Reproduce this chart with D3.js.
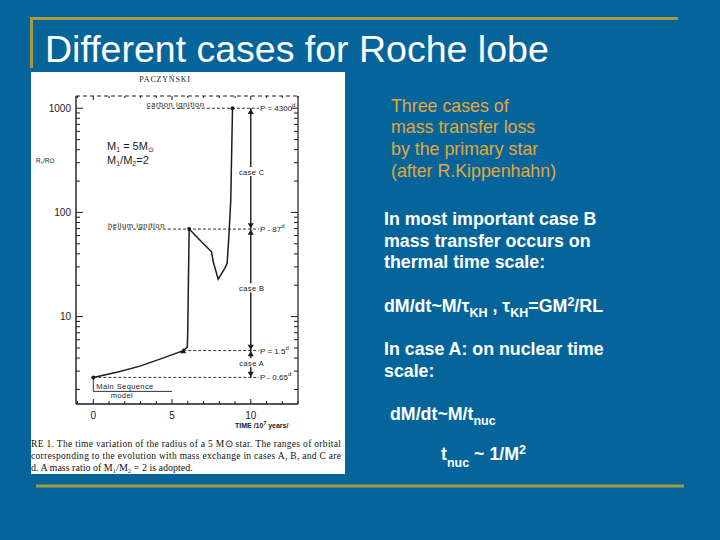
<!DOCTYPE html>
<html>
<head>
<meta charset="utf-8">
<script src="https://cdnjs.cloudflare.com/ajax/libs/d3/7.8.5/d3.min.js"></script>
<style>
  body { margin: 0; background: #05659b; }
  svg { display: block; }
</style>
</head>
<body>
<div class="chart"></div>
<script>
// evolutionary track of the 5 Msun primary (time in 10^7 yr, radius in Rsun)
var trackTime   = [0, 1.5, 2.96, 4.5, 5.71, 5.97, 6.0, 6.04, 6.09, 6.87, 7.51, 7.62, 7.93, 8.35, 8.5, 8.62, 8.73, 8.84];
var trackRadius = [2.61, 2.93, 3.35, 4.04, 4.72, 5.09, 7.4, 22.4, 69.2, 52.2, 41.9, 33.4, 22.9, 29.0, 32.4, 63, 131, 1000];

// orbital periods marking the limits of cases A, B, C
var periodLabels = ["4300", "87", "1.5", "0.65"];
var periodRadius = [1000, 69.2, 4.72, 2.61];
var periodStart  = [3.4, 0.93, 5.71, 0];
var periodSign   = ["=", "-", "=", "-"];

var ignitionLabels = ["carbon ignition", "helium ignition"];
var ignitionRadius = [1000, 69.2];
var ignitionStart  = [3.4, 0.93];

var caseLabels = ["case C", "case B", "case A"];
var caseRadius = [244, 18.7, 3.58];
var caseTime = 10;

var yTickLabels = [10, 100, 1000];
var xTickLabels = [0, 5, 10];

var rightLinesGold = ["Three cases of", "mass transfer loss", "by the primary star", "(after R.Kippenhahn)"];
var rightLinesBold = ["In most important case B", "mass transfer occurs on", "thermal time scale:"];
var rightLinesBold2 = ["In case A: on nuclear time", "scale:"];
var captionLines = [
  "RE 1.  The time variation of the radius of a 5 M\u2299 star. The ranges of orbital",
  "corresponding to the evolution with mass exchange in cases A, B, and C are",
  "d. A mass ratio of M\u2081/M\u2082 = 2 is adopted."
];
var captionWidths = [310, 310, 0];

var W = 720, H = 540;
var gold = "#a89a3e", goldText = "#e3a73c", ink = "#1c1c1c";
var sans = "Arial, 'Liberation Sans', sans-serif";
var serif = "'Times New Roman', 'Liberation Serif', serif";

var svg = d3.select(".chart").append("svg")
  .attr("width", W)
  .attr("height", H);

svg.append("rect").attr("width", W).attr("height", H).attr("fill", "#05659b");

// slide frame lines
svg.append("line").attr("x1", 31).attr("x2", 678).attr("y1", 18.5).attr("y2", 18.5)
  .attr("stroke", gold).attr("stroke-width", 3);
svg.append("line").attr("x1", 31.5).attr("x2", 31.5).attr("y1", 17).attr("y2", 68)
  .attr("stroke", gold).attr("stroke-width", 3);
svg.append("line").attr("x1", 36).attr("x2", 684).attr("y1", 486).attr("y2", 486)
  .attr("stroke", gold).attr("stroke-width", 3);

svg.append("text")
  .attr("x", 45).attr("y", 62)
  .attr("font-family", sans).attr("font-size", 37.5)
  .attr("fill", "#fff")
  .text("Different cases for Roche lobe");

// white panel with the scanned figure
svg.append("clipPath").attr("id", "panel")
  .append("rect").attr("x", 31).attr("y", 72).attr("width", 314).attr("height", 402);
svg.append("rect").attr("x", 31).attr("y", 72).attr("width", 314).attr("height", 402).attr("fill", "#fff");

var fig = svg.append("g").attr("clip-path", "url(#panel)");

var x = d3.scaleLinear().domain([-1.1, 13]).range([76, 298]);
var y = d3.scaleLog().domain([1.45, 1310]).range([404, 96]);

fig.append("text").attr("x", 165).attr("y", 82)
  .attr("text-anchor", "middle").attr("font-family", serif).attr("font-size", 8)
  .attr("letter-spacing", 0.8).attr("fill", ink)
  .text("PACZY\u0143SKI");

// frame: dashed top, solid others
fig.append("line").attr("x1", x.range()[0]).attr("x2", x.range()[1]).attr("y1", y.range()[1]).attr("y2", y.range()[1])
  .attr("stroke", ink).attr("stroke-width", 1).attr("stroke-dasharray", "4,3");
fig.append("line").attr("x1", x.range()[0]).attr("x2", x.range()[0]).attr("y1", y.range()[1]).attr("y2", y.range()[0])
  .attr("stroke", ink).attr("stroke-width", 1.4);
fig.append("line").attr("x1", x.range()[1]).attr("x2", x.range()[1]).attr("y1", y.range()[1]).attr("y2", y.range()[0])
  .attr("stroke", ink).attr("stroke-width", 1.2);
fig.append("line").attr("x1", x.range()[0]).attr("x2", x.range()[1]).attr("y1", y.range()[0]).attr("y2", y.range()[0])
  .attr("stroke", ink).attr("stroke-width", 1.4);

// log ticks on both vertical sides
var yTicks = y.ticks();
function isMajor(v) { return Math.abs(Math.log10(v) - Math.round(Math.log10(v))) < 1e-6; }
[[x.range()[0], 1], [x.range()[1], -1]].forEach(function(side) {
  fig.selectAll(null).data(yTicks).enter().append("line")
    .attr("x1", side[0])
    .attr("x2", function(d) { return side[0] + side[1] * (isMajor(d) ? 7 : 4); })
    .attr("y1", function(d) { return y(d); })
    .attr("y2", function(d) { return y(d); })
    .attr("stroke", ink).attr("stroke-width", 1);
});

var xTicks = d3.range(-1, 14);
fig.selectAll(null).data(xTicks).enter().append("line")
  .attr("x1", function(d) { return x(d); }).attr("x2", function(d) { return x(d); })
  .attr("y1", y.range()[0])
  .attr("y2", function(d) { return y.range()[0] - (d % 5 === 0 ? 5 : 3); })
  .attr("stroke", ink).attr("stroke-width", 1);
fig.selectAll(null).data(xTicks).enter().append("line")
  .attr("x1", function(d) { return x(d); }).attr("x2", function(d) { return x(d); })
  .attr("y1", y.range()[1])
  .attr("y2", function(d) { return y.range()[1] + (d % 5 === 0 ? 4 : 2); })
  .attr("stroke", ink).attr("stroke-width", 1);

fig.selectAll(null).data(yTickLabels).enter().append("text")
  .attr("x", 71).attr("y", function(d) { return y(d) + 3.5; })
  .attr("text-anchor", "end").attr("font-family", sans).attr("font-size", 10)
  .attr("fill", ink)
  .text(function(d) { return d; });

fig.selectAll(null).data(xTickLabels).enter().append("text")
  .attr("x", function(d) { return x(d); }).attr("y", 419)
  .attr("text-anchor", "middle").attr("font-family", sans).attr("font-size", 10)
  .attr("fill", ink)
  .text(function(d) { return d; });

var timeLabel = fig.append("text").attr("x", 235).attr("y", 428)
  .attr("font-family", sans).attr("font-size", 7).attr("font-weight", "bold").attr("fill", ink);
timeLabel.append("tspan").text("TIME /10");
timeLabel.append("tspan").attr("dy", -3).attr("font-size", 5).text("7");
timeLabel.append("tspan").attr("dy", 3).text(" years/");

fig.append("text").attr("x", 36).attr("y", 163)
  .attr("font-family", sans).attr("font-size", 6.5).attr("fill", ink)
  .text("R\u2081/R\u2299");

var m1 = fig.append("text").attr("x", 107).attr("y", 150)
  .attr("font-family", sans).attr("font-size", 11).attr("fill", ink);
m1.append("tspan").text("M");
m1.append("tspan").attr("dy", 2).attr("font-size", 7).text("1");
m1.append("tspan").attr("dy", -2).text(" = 5M");
m1.append("tspan").attr("dy", 2).attr("font-size", 7).text("\u2299");
var m2 = fig.append("text").attr("x", 107).attr("y", 164)
  .attr("font-family", sans).attr("font-size", 11).attr("fill", ink);
m2.append("tspan").text("M");
m2.append("tspan").attr("dy", 2).attr("font-size", 7).text("1");
m2.append("tspan").attr("dy", -2).text("/M");
m2.append("tspan").attr("dy", 2).attr("font-size", 7).text("2");
m2.append("tspan").attr("dy", -2).text("=2");

// dashed period lines
periodRadius.forEach(function(r, i) {
  fig.append("line")
    .attr("x1", x(periodStart[i])).attr("x2", 259)
    .attr("y1", y(r)).attr("y2", y(r))
    .attr("stroke", ink).attr("stroke-width", 0.9).attr("stroke-dasharray", "3,2");
  var t = fig.append("text").attr("x", 260).attr("y", y(r) + 3)
    .attr("font-family", sans).attr("font-size", 8).attr("fill", ink);
  t.append("tspan").text("P " + periodSign[i] + " " + periodLabels[i]);
  t.append("tspan").attr("dy", -4).attr("font-size", 6).text("d");
});

ignitionLabels.forEach(function(s, i) {
  fig.append("text").attr("x", x(ignitionStart[i])).attr("y", y(ignitionRadius[i]) - 1.5)
    .attr("font-family", sans).attr("font-size", 7.5).attr("letter-spacing", 0.6).attr("fill", ink)
    .text(s);
});

// main sequence model bracket
var msY = y(periodRadius[3]);
fig.append("path")
  .attr("d", "M" + x(0) + "," + msY + "V" + (msY + 14) + "H" + x(5))
  .attr("fill", "none").attr("stroke", ink).attr("stroke-width", 0.9);
fig.append("text").attr("x", x(0) + 3).attr("y", msY + 12)
  .attr("font-family", sans).attr("font-size", 7.5).attr("letter-spacing", 0.4).attr("fill", ink)
  .text("Main Sequence");
fig.append("text").attr("x", x(1.1)).attr("y", msY + 21)
  .attr("font-family", sans).attr("font-size", 7.5).attr("letter-spacing", 0.4).attr("fill", ink)
  .text("model");

// case line at t = 10
fig.append("line")
  .attr("x1", x(caseTime)).attr("x2", x(caseTime))
  .attr("y1", y(periodRadius[3])).attr("y2", y(periodRadius[0]))
  .attr("stroke", ink).attr("stroke-width", 1.4);

var tri = d3.symbol().type(d3.symbolTriangle).size(16);
var arrows = [];
periodRadius.forEach(function(r, i) {
  if (i > 0) arrows.push({ r: r, dir: 1 });   // pointing down, above the line
  if (i < periodRadius.length - 1) arrows.push({ r: r, dir: -1 }); // pointing up, below
});
fig.selectAll(null).data(arrows).enter().append("path")
  .attr("d", tri)
  .attr("transform", function(d) {
    return "translate(" + x(caseTime) + "," + (y(d.r) - d.dir * 4) + ") rotate(" + (d.dir > 0 ? 180 : 0) + ")";
  })
  .attr("fill", ink);

caseLabels.forEach(function(s, i) {
  fig.append("rect").attr("x", x(caseTime) - 15).attr("y", y(caseRadius[i]) - 5)
    .attr("width", 30).attr("height", 9).attr("fill", "#fff");
  fig.append("text").attr("x", x(caseTime) + 1).attr("y", y(caseRadius[i]) + 3)
    .attr("text-anchor", "middle").attr("font-family", sans).attr("font-size", 7.5)
    .attr("letter-spacing", 0.4).attr("fill", ink)
    .text(s);
});

// evolutionary track
var track = trackTime.map(function(t, i) { return [t, trackRadius[i]]; });
var line = d3.line()
  .x(function(d) { return x(d[0]); })
  .y(function(d) { return y(d[1]); });
fig.append("path").datum(track)
  .attr("d", line)
  .attr("fill", "none").attr("stroke", ink).attr("stroke-width", 1.5);

fig.selectAll(null).data([track[0], track[8], track[track.length - 1]]).enter().append("circle")
  .attr("cx", function(d) { return x(d[0]); })
  .attr("cy", function(d) { return y(d[1]); })
  .attr("r", 2).attr("fill", ink);
fig.append("path").attr("d", tri)
  .attr("transform", "translate(" + x(track[4][0]) + "," + (y(track[4][1]) + 1) + ")")
  .attr("fill", ink);

// caption
captionLines.forEach(function(s, i) {
  var c = fig.append("text").attr("x", 31).attr("y", 447 + i * 12)
    .attr("font-family", serif).attr("font-size", i === 2 ? 10 : 9.5).attr("fill", "#111")
    .text(s);
  if (captionWidths[i]) c.attr("textLength", captionWidths[i]).attr("lengthAdjust", "spacing");
});

// right column text
svg.selectAll(null).data(rightLinesGold).enter().append("text")
  .attr("x", 391).attr("y", function(d, i) { return 111.5 + i * 21.8; })
  .attr("font-family", sans).attr("font-size", 17.8).attr("fill", goldText)
  .text(function(d) { return d; });

svg.selectAll(null).data(rightLinesBold).enter().append("text")
  .attr("x", 384).attr("y", function(d, i) { return 225 + i * 21.7; })
  .attr("font-family", sans).attr("font-size", 17.8).attr("font-weight", "bold").attr("fill", "#fff")
  .text(function(d) { return d; });

svg.selectAll(null).data(rightLinesBold2).enter().append("text")
  .attr("x", 384).attr("y", function(d, i) { return 355 + i * 22; })
  .attr("font-family", sans).attr("font-size", 17.8).attr("font-weight", "bold").attr("fill", "#fff")
  .text(function(d) { return d; });

function formula(xp, yp, parts) {
  var t = svg.append("text").attr("x", xp).attr("y", yp)
    .attr("font-family", sans).attr("font-size", 17.8).attr("font-weight", "bold").attr("fill", "#fff");
  var shift = 0;
  parts.forEach(function(p) {
    var dy = (p[1] || 0) - shift;
    shift = p[1] || 0;
    var ts = t.append("tspan").attr("dy", dy).text(p[0]);
    if (p[1]) ts.attr("font-size", 12.5);
  });
}
formula(384, 311.5, [["dM/dt~M/\u03c4"], ["KH", 5], [" , \u03c4"], ["KH", 5], ["=GM"], ["2", -6], ["/RL"]]);
formula(390, 420, [["dM/dt~M/t"], ["nuc", 5]]);
formula(441, 460, [["t"], ["nuc", 7], [" ~ 1/M"], ["2", -6]]);
</script>
</body>
</html>
